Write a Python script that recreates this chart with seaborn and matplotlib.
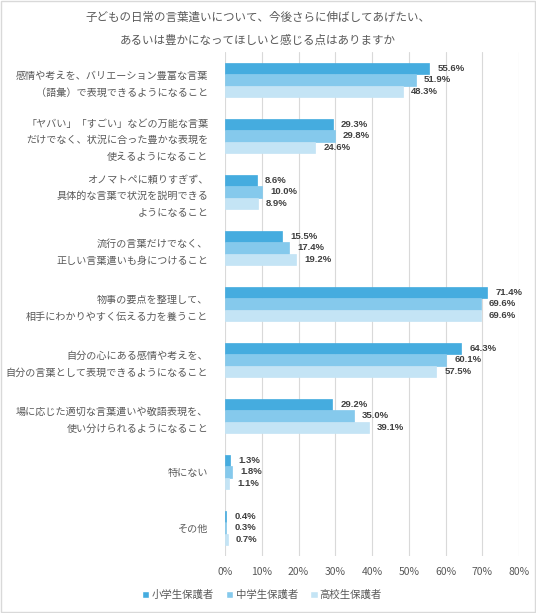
import matplotlib
matplotlib.use("Agg")
import matplotlib.pyplot as plt
import seaborn as sns
import pandas as pd
from matplotlib.patches import Rectangle

categories = [
    "感情や考えを、バリエーション豊富な言葉\n（語彙）で表現できるようになること",
    "「ヤバい」「すごい」などの万能な言葉\nだけでなく、状況に合った豊かな表現を\n使えるようになること",
    "オノマトペに頼りすぎず、\n具体的な言葉で状況を説明できる\nようになること",
    "流行の言葉だけでなく、\n正しい言葉遣いも身につけること",
    "物事の要点を整理して、\n相手にわかりやすく伝える力を養うこと",
    "自分の心にある感情や考えを、\n自分の言葉として表現できるようになること",
    "場に応じた適切な言葉遣いや敬語表現を、\n使い分けられるようになること",
    "特にない",
    "その他",
]
groups = ["小学生保護者", "中学生保護者", "高校生保護者"]
elementary = [55.6, 29.3, 8.6, 15.5, 71.4, 64.3, 29.2, 1.3, 0.4]
junior = [51.9, 29.8, 10.0, 17.4, 69.6, 60.1, 35.0, 1.8, 0.3]
high = [48.3, 24.6, 8.9, 19.2, 69.6, 57.5, 39.1, 1.1, 0.7]
title = "子どもの日常の言葉遣いについて、今後さらに伸ばしてあげたい、\nあるいは豊かになってほしいと感じる点はありますか"
colors = ["#45ACDF", "#85C9EC", "#C4E4F5"]

rows = []
for g, vals in zip(groups, [elementary, junior, high]):
    for c, v in zip(categories, vals):
        rows.append({"category": c, "group": g, "value": v})
df = pd.DataFrame(rows)

sns.set_theme(style="white")
plt.rcParams["font.family"] = ["Noto Sans CJK JP", "DejaVu Sans"]

fig = plt.figure(figsize=(5.36, 6.13), dpi=100)
ax = fig.add_axes([225/536, 1-556/613, (519-225)/536, (556-52)/613])

sns.barplot(data=df, x="value", y="category", hue="group", palette=colors,
            orient="h", width=0.62, gap=0, ax=ax, order=categories,
            hue_order=groups, saturation=1, legend=True)

for cont in ax.containers:
    for b in cont:
        b.set_edgecolor(b.get_facecolor())
        b.set_linewidth(0.5)
    ax.bar_label(cont, labels=[f"{b.get_width():.1f}%" for b in cont],
                 padding=6, fontsize=6.8, fontweight="bold", color="#404040",
                 family=["Liberation Sans", "DejaVu Sans"])

ax.set_xlim(0, 80)
ax.set_xticks(range(0, 81, 10))
ax.set_xticklabels([f"{t}%" for t in range(0, 81, 10)], color="#595959", fontsize=7.5)
ax.set_xlabel("")
ax.set_ylabel("")
ax.tick_params(axis="y", length=0, pad=12, labelsize=7.25, labelcolor="#595959")
ax.tick_params(axis="x", length=0, pad=8)
for lbl in ax.get_yticklabels():
    lbl.set_linespacing(1.8)
ax.grid(axis="x", color="#D9D9D9", linewidth=0.8)
ax.set_axisbelow(True)
for s in ax.spines.values():
    s.set_visible(False)

leg = ax.legend(loc="center", bbox_to_anchor=(262/536, 1-595/613),
                bbox_transform=fig.transFigure, ncol=3, frameon=False,
                fontsize=7.5, handlelength=0.7, handleheight=0.7,
                handletextpad=0.2, columnspacing=1.2)
for t in leg.get_texts():
    t.set_color("#595959")

fig.text(258/536, 1-29/613, title, ha="center", va="center", fontsize=8.3,
         color="#595959", linespacing=1.95)

fig.add_artist(Rectangle((0.001, 0.001), 0.997, 0.997, transform=fig.transFigure,
                         fill=False, edgecolor="#D9D9D9", linewidth=1))

fig.savefig("out.png", dpi=100)
